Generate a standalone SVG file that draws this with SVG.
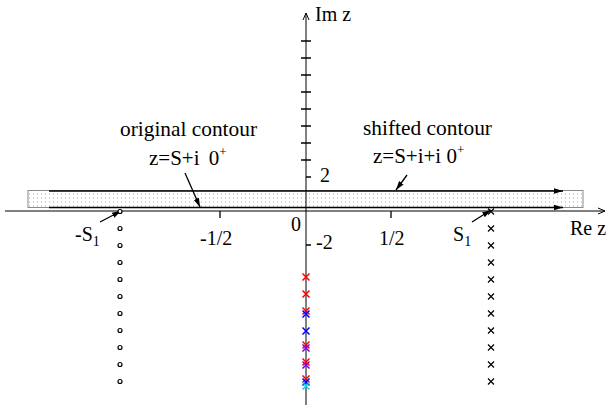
<svg xmlns="http://www.w3.org/2000/svg" width="610" height="405" viewBox="0 0 610 405">
<style>
text{font-family:"Liberation Serif","Times New Roman",serif;fill:#000}
.lbl{font-size:20px}
.big{font-size:21px}
.sub{font-size:14px}
.sup{font-size:13px}
.ax{stroke:#000;stroke-width:1;fill:none}
.tk{stroke:#000;stroke-width:1.3;fill:none}
.ar{stroke:#000;stroke-width:1.3;fill:none}
.pole{stroke:#000;stroke-width:1.2;fill:none}
.circ{stroke:#000;stroke-width:1.2;fill:#fff}
</style>
<defs>
<pattern id="dots" width="4" height="4" patternUnits="userSpaceOnUse" x="0" y="0.5">
<rect width="4" height="4" fill="#fff"/>
<rect x="1" y="1" width="1" height="1" fill="#a8a8a8"/>
</pattern>
<marker id="ah" markerWidth="10" markerHeight="8" refX="9" refY="4" orient="auto" markerUnits="userSpaceOnUse">
<path d="M0,1.2 L9,4 L0,6.8 z" fill="#000"/>
</marker>
<marker id="oh" markerWidth="10" markerHeight="8" refX="8" refY="4" orient="auto" markerUnits="userSpaceOnUse">
<path d="M1,1 L8,4 L1,7" fill="none" stroke="#000" stroke-width="1"/>
</marker>
<g id="xm"><path d="M-3,-3 L3,3 M-3,3 L3,-3"/></g>
<g id="xc"><path d="M-3.5,-3.5 L3.5,3.5 M-3.5,3.5 L3.5,-3.5"/></g>
</defs>

<g id="contour-box">
<rect x="28" y="190.5" width="555" height="17" fill="url(#dots)" stroke="#8a8a8a" stroke-width="1"/>
</g>

<g id="connectors">
<line class="ax" x1="5" y1="211" x2="605" y2="211" marker-end="url(#oh)"/>
<line class="ax" x1="306" y1="405" x2="306" y2="13" marker-end="url(#oh)"/>
<line class="ar" x1="49" y1="191" x2="563" y2="191" marker-end="url(#ah)"/>
<line class="ar" x1="49" y1="207.5" x2="563" y2="207.5" marker-end="url(#ah)"/>
<line class="ar" x1="185" y1="173" x2="200" y2="207" marker-end="url(#ah)"/>
<line class="ar" x1="407" y1="175" x2="396" y2="190" marker-end="url(#ah)"/>
<line class="ar" x1="100" y1="222" x2="121" y2="211" marker-end="url(#ah)"/>
<line class="ar" x1="472" y1="222" x2="491" y2="210" marker-end="url(#ah)"/>
</g>

<g id="ticks" class="tk">
<path d="M220,211 V218 M391,211 V218"/>
<path d="M306,177 H311 M306,245 H311"/>
<path d="M301,160 H311 M301,143 H311 M301,126 H311 M301,109 H311 M301,92 H311 M301,75 H311 M301,58 H311 M301,41 H311"/>
</g>

<g id="poles-left">
<circle class="circ" cx="120" cy="211.5" r="2"/>
<circle class="circ" cx="120" cy="228.5" r="2"/>
<circle class="circ" cx="120" cy="245.5" r="2"/>
<circle class="circ" cx="120" cy="262.5" r="2"/>
<circle class="circ" cx="120" cy="279.5" r="2"/>
<circle class="circ" cx="120" cy="296.5" r="2"/>
<circle class="circ" cx="120" cy="313.5" r="2"/>
<circle class="circ" cx="120" cy="330.5" r="2"/>
<circle class="circ" cx="120" cy="347.5" r="2"/>
<circle class="circ" cx="120" cy="364.5" r="2"/>
<circle class="circ" cx="120" cy="381.5" r="2"/>
</g>

<g id="poles-right" class="pole">
<use href="#xm" x="491" y="211.5"/>
<use href="#xm" x="491" y="228.5"/>
<use href="#xm" x="491" y="245.5"/>
<use href="#xm" x="491" y="262.5"/>
<use href="#xm" x="491" y="279.5"/>
<use href="#xm" x="491" y="296.5"/>
<use href="#xm" x="491" y="313.5"/>
<use href="#xm" x="491" y="330.5"/>
<use href="#xm" x="491" y="347.5"/>
<use href="#xm" x="491" y="364.5"/>
<use href="#xm" x="491" y="381.5"/>
</g>

<g id="poles-axis" stroke-width="1.5" fill="none">
<g stroke="#ff0000">
<use href="#xc" x="306" y="277"/>
<use href="#xc" x="306" y="294"/>
<use href="#xc" x="306" y="311"/>
<use href="#xc" x="306" y="345"/>
<use href="#xc" x="306" y="362"/>
<use href="#xc" x="306" y="379"/>
</g>
<g stroke="#0000ff">
<use href="#xc" x="306" y="314"/>
<use href="#xc" x="306" y="331"/>
<use href="#xc" x="306" y="382"/>
</g>
<g stroke="#7a00e0">
<use href="#xc" x="306" y="348"/>
<use href="#xc" x="306" y="365"/>
</g>
<g stroke="#00d8e8">
<use href="#xc" x="306" y="386"/>
</g>
</g>

<g id="labels">
<text class="big" x="120" y="136" textLength="137" lengthAdjust="spacingAndGlyphs">original contour</text>
<text class="big" x="149" y="165">z=S+i <tspan dx="4">0</tspan><tspan class="sup" dy="-9">+</tspan></text>
<text class="big" x="363" y="135" textLength="129" lengthAdjust="spacingAndGlyphs">shifted contour</text>
<text class="big" x="373" y="163">z=S+i+i 0<tspan class="sup" dy="-9">+</tspan></text>
<text class="lbl" x="315" y="21">Im z</text>
<text class="lbl" x="570" y="235">Re z</text>
<text class="lbl" x="320" y="182">2</text>
<text class="lbl" x="291" y="231">0</text>
<text class="lbl" x="316" y="249">-2</text>
<text class="lbl" x="200" y="245">-1/2</text>
<text class="lbl" x="379" y="245">1/2</text>
<text class="lbl" x="75" y="241">-S<tspan class="sub" dy="5">1</tspan></text>
<text class="lbl" x="453" y="241">S<tspan class="sub" dy="5">1</tspan></text>
</g>
</svg>
